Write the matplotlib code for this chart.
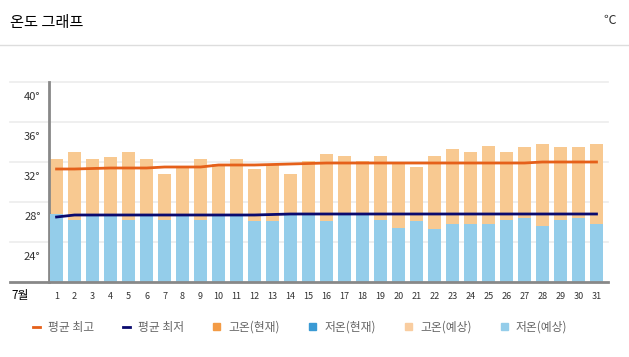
import matplotlib.pyplot as plt
from matplotlib.lines import Line2D
from matplotlib.patches import Patch

plt.rcParams['font.family'] = ['Noto Sans CJK KR', 'DejaVu Sans']

# July daily temperatures (forecast)
days = list(range(1, 32))
high = [32.3, 33.0, 32.3, 32.5, 33.0, 32.3, 30.8, 31.4, 32.3, 31.8,
        32.3, 31.3, 31.7, 30.8, 32.1, 32.8, 32.6, 32.1, 32.6, 31.8,
        31.5, 32.6, 33.3, 33.0, 33.6, 33.0, 33.5, 33.8, 33.5, 33.5, 33.8]
low = [26.8, 26.2, 26.7, 26.7, 26.2, 26.7, 26.2, 26.7, 26.2, 26.7,
       26.7, 26.1, 26.1, 26.7, 26.7, 26.1, 26.7, 26.7, 26.2, 25.4,
       26.1, 25.3, 25.8, 25.8, 25.8, 26.2, 26.4, 25.6, 26.2, 26.4, 25.8]
avg_high = [31.3, 31.3, 31.35, 31.4, 31.4, 31.4, 31.5, 31.5, 31.5, 31.7,
            31.7, 31.7, 31.75, 31.8, 31.85, 31.9, 31.9, 31.9, 31.9, 31.9,
            31.9, 31.9, 31.9, 31.9, 31.9, 31.9, 31.9, 32.0, 32.0, 32.0, 32.0]
avg_low = [26.5, 26.7, 26.7, 26.7, 26.7, 26.7, 26.7, 26.7, 26.7, 26.7,
           26.7, 26.7, 26.75, 26.8, 26.8, 26.8, 26.8, 26.8, 26.8, 26.8,
           26.8, 26.8, 26.8, 26.8, 26.8, 26.8, 26.8, 26.8, 26.8, 26.8, 26.8]
yticks = [24, 28, 32, 36, 40]
month_label = '7월'

fig = plt.figure(figsize=(6.29, 3.57), dpi=100)
ax = fig.add_axes([49 / 629, 75 / 357, 559 / 629, 200 / 357])

# header
fig.text(10 / 629, 1 - 22 / 357, '온도 그래프', fontsize=11, va='center', ha='left')
fig.text(616 / 629, 1 - 20 / 357, '℃', fontsize=9, va='center', ha='right', color='#333333')
fig.add_artist(Line2D([0, 1], [1 - 45 / 357] * 2, color='#dddddd', lw=1))

# grid
for v in yticks:
    ax.axhline(v, xmin=-0.07, xmax=1, color='#ececec', lw=1.2, clip_on=False, zorder=0)
    ax.text(-0.015, v - 1.55, '%d°' % v, transform=ax.get_yaxis_transform(),
            ha='right', va='center', fontsize=8, color='#333333')
ax.axhline(20, xmin=-0.07, xmax=1, color='#888888', lw=2, clip_on=False, zorder=5)

ax.bar(days, high, width=0.76, bottom=0, color='#f8c991', zorder=2)
ax.bar(days, low, width=0.76, bottom=0, color='#94cdea', zorder=3)
ax.plot(days, avg_high, color='#e5601a', lw=2, zorder=4)
ax.plot(days, avg_low, color='#0a0a6e', lw=2, zorder=4)

ax.set_xlim(0.58, 31.64)
ax.set_ylim(20, 40)
for s in ['top', 'right', 'bottom']:
    ax.spines[s].set_visible(False)
ax.spines['left'].set_color('#888888')
ax.spines['left'].set_linewidth(2)
ax.set_yticks([])
ax.set_xticks(days)
ax.set_xticklabels([str(d) for d in days], fontsize=6.5, color='#333333')
ax.tick_params(axis='x', length=0, pad=7)
fig.text(20 / 629, 1 - 295 / 357, month_label, fontsize=8.5, ha='center', va='center')

handles = [
    Line2D([], [], color='#e5601a', lw=2),
    Line2D([], [], color='#0a0a6e', lw=2),
    Patch(color='#f39b45'),
    Patch(color='#3a9ad4'),
    Patch(color='#f9cda0'),
    Patch(color='#94cdea'),
]
labels = ['평균 최고', '평균 최저', '고온(현재)', '저온(현재)', '고온(예상)', '저온(예상)']
fig.legend(handles, labels, loc='center', bbox_to_anchor=(300 / 629, 1 - 327 / 357),
           ncol=6, frameon=False, fontsize=8.5, labelcolor='#666666',
           handlelength=0.6, handleheight=0.6, handletextpad=0.7, columnspacing=2.45)

fig.savefig('out.png', dpi=100)
